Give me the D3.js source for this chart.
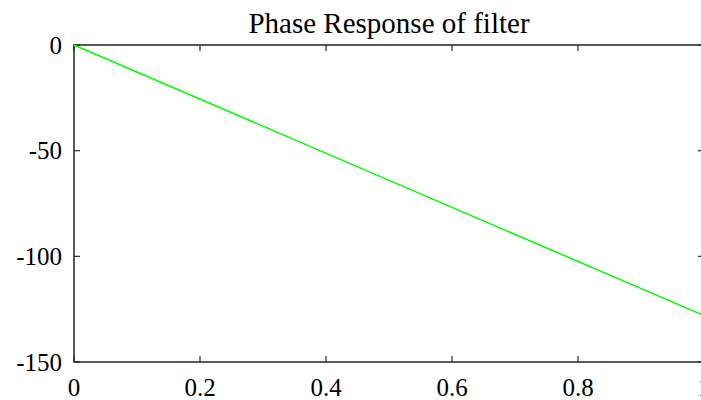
<!DOCTYPE html>
<html>
<head>
<meta charset="utf-8">
<script src="https://cdn.jsdelivr.net/npm/d3@7"></script>
<style>
  body { margin: 0; background: #fff; }
  svg { display: block; overflow: hidden; }
  text { font-family: "Liberation Serif", "Times New Roman", serif; fill: #000; }
</style>
</head>
<body>
<div class="vis-phase"></div>
<script>
const freq = [0, 1];
const phase = [0, -128];
const xTicks = [0, 0.2, 0.4, 0.6, 0.8, 1];
const yTicks = [0, -50, -100, -150];
const title = 'Phase Response of filter';

const draw = () => {
  const margin = { top: 45, right: -3, bottom: 38, left: 74 };
  const totalW = 701;
  const totalH = 400;
  const width = totalW - margin.left - margin.right;
  const height = totalH - margin.top - margin.bottom;

  const svg = d3.select('.vis-phase')
    .append('svg')
    .attr('width', totalW)
    .attr('height', totalH)
    .append('g')
    .attr('transform', `translate(${margin.left},${margin.top})`);

  const x = d3.scaleLinear().domain([0, 1]).range([0, width]);
  const y = d3.scaleLinear().domain([-150, 0]).range([height, 0]);

  const axisColor = '#262626';
  const tick = 6;

  // box
  svg.append('rect')
    .attr('width', width)
    .attr('height', height)
    .attr('fill', 'none')
    .attr('stroke', axisColor)
    .attr('stroke-width', 1.5);

  // ticks on all four sides, pointing inward
  xTicks.forEach((t) => {
    svg.append('line').attr('x1', x(t)).attr('x2', x(t))
      .attr('y1', height).attr('y2', height - tick)
      .attr('stroke', axisColor).attr('stroke-width', 1.2);
    svg.append('line').attr('x1', x(t)).attr('x2', x(t))
      .attr('y1', 0).attr('y2', tick)
      .attr('stroke', axisColor).attr('stroke-width', 1.2);
    svg.append('text')
      .attr('x', x(t))
      .attr('y', height + 34)
      .attr('text-anchor', 'middle')
      .style('font-size', '25px')
      .text(d3.format('~g')(t));
  });

  yTicks.forEach((t) => {
    svg.append('line').attr('x1', 0).attr('x2', tick)
      .attr('y1', y(t)).attr('y2', y(t))
      .attr('stroke', axisColor).attr('stroke-width', 1.2);
    svg.append('line').attr('x1', width).attr('x2', width - tick)
      .attr('y1', y(t)).attr('y2', y(t))
      .attr('stroke', axisColor).attr('stroke-width', 1.2);
    svg.append('text')
      .attr('x', -12)
      .attr('y', y(t))
      .attr('dy', '0.35em')
      .attr('text-anchor', 'end')
      .style('font-size', '25px')
      .text(t);
  });

  const line = d3.line()
    .x((d, i) => x(freq[i]))
    .y((d) => y(d));

  svg.append('path')
    .datum(phase)
    .attr('d', line)
    .attr('fill', 'none')
    .attr('stroke', '#00ff00')
    .attr('stroke-width', 1.5);

  svg.append('text')
    .attr('x', width / 2)
    .attr('y', -12)
    .attr('text-anchor', 'middle')
    .style('font-size', '29px')
    .text(title);
};

draw();
</script>
</body>
</html>
